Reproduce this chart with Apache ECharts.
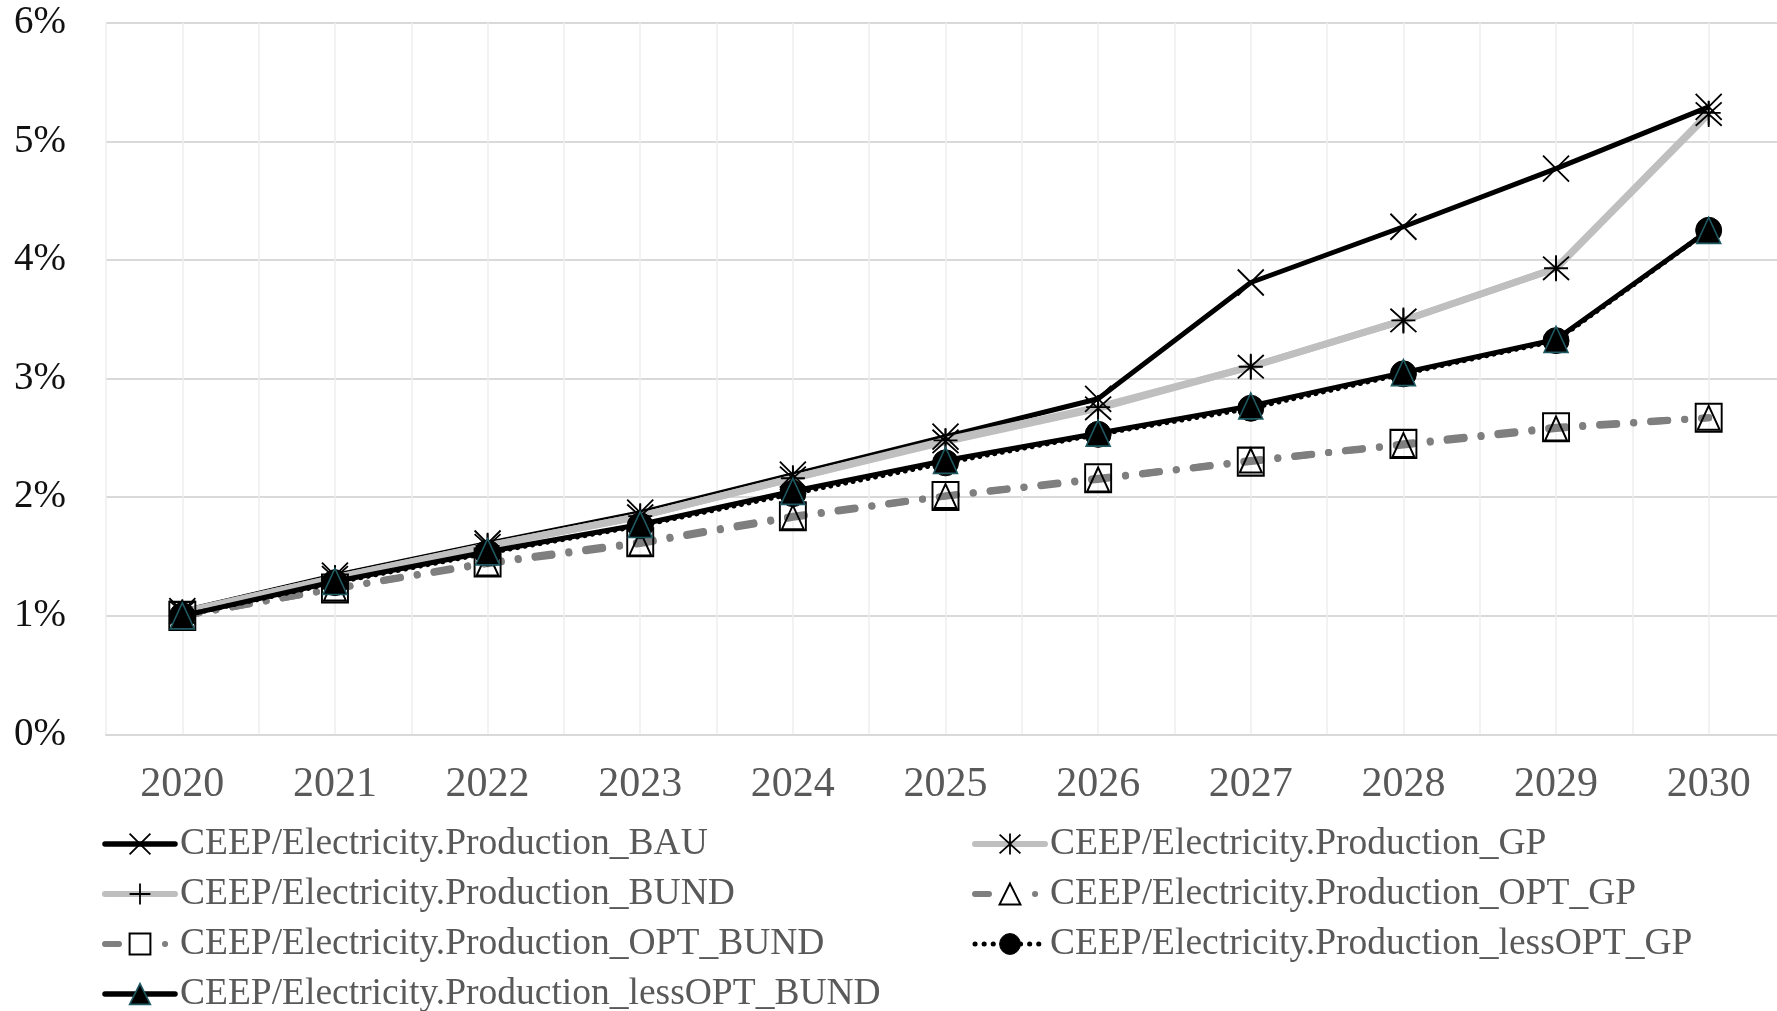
<!DOCTYPE html>
<html>
<head>
<meta charset="utf-8">
<script src="https://cdn.jsdelivr.net/npm/echarts@6/dist/echarts.min.js"></script>
<style>
  html, body { margin: 0; padding: 0; background: #fff; }
  #chart { width: 1777px; height: 1011px; }
</style>
</head>
<body>
<div id="chart"></div>
<script>
// Electricity production scenarios, share in percent
const years = ['2020', '2021', '2022', '2023', '2024', '2025', '2026', '2027', '2028', '2029', '2030'];
const yTicks = [0, 1, 2, 3, 4, 5, 6];

const prodBAU        = [1.04, 1.34, 1.61, 1.87, 2.19, 2.51, 2.83, 3.81, 4.28, 4.77, 5.29];
const prodGP         = [1.03, 1.32, 1.59, 1.84, 2.16, 2.47, 2.75, 3.10, 3.49, 3.93, 5.23];
const prodBUND       = [1.03, 1.32, 1.59, 1.84, 2.16, 2.48, 2.76, 3.10, 3.49, 3.93, 5.24];
const prodOPT_GP     = [1.00, 1.23, 1.44, 1.61, 1.83, 2.01, 2.15, 2.31, 2.44, 2.58, 2.67];
const prodOPT_BUND   = [1.00, 1.23, 1.45, 1.62, 1.84, 2.01, 2.16, 2.30, 2.45, 2.59, 2.67];
const prodLessOPT_GP   = [1.00, 1.28, 1.53, 1.76, 2.03, 2.29, 2.53, 2.75, 3.04, 3.32, 4.25];
const prodLessOPT_BUND = [1.00, 1.29, 1.54, 1.77, 2.05, 2.31, 2.54, 2.77, 3.05, 3.33, 4.25];

const names = {
  BAU: 'CEEP/Electricity.Production_BAU',
  GP: 'CEEP/Electricity.Production_GP',
  BUND: 'CEEP/Electricity.Production_BUND',
  OPT_GP: 'CEEP/Electricity.Production_OPT_GP',
  OPT_BUND: 'CEEP/Electricity.Production_OPT_BUND',
  lessOPT_GP: 'CEEP/Electricity.Production_lessOPT_GP',
  lessOPT_BUND: 'CEEP/Electricity.Production_lessOPT_BUND'
};

const FONT = 'Liberation Serif';
const CLEAR = 'rgba(0,0,0,0)';

// stroked marker shapes
const SYM_X = 'path://M0,0L20,20M20,0L0,20';
const SYM_STAR = 'path://M1,1L19,19M19,1L1,19M10,0L10,20';
const SYM_PLUS = 'path://M0,10L20,10M10,0L10,20';

const DASH_DOT = [17, 17, 0.1, 17];
const DOTS = [0.1, 7.5];

function strokeMarker(width) {
  return { color: CLEAR, borderColor: '#000', borderWidth: width };
}

// per-scenario look, shared by the plotted line and its legend entry
const styles = {
  BAU: {
    symbol: SYM_X, symbolSize: 26,
    line: { color: '#000', width: 5 },
    item: strokeMarker(1.8),
    legendLine: { color: '#000', width: 5.5, type: 'solid', cap: 'round' }
  },
  GP: {
    symbol: SYM_STAR, symbolSize: 26,
    line: { color: '#bfbfbf', width: 7 },
    item: strokeMarker(1.8),
    legendLine: { color: '#bfbfbf', width: 6, type: 'solid', cap: 'round' }
  },
  BUND: {
    symbol: SYM_PLUS, symbolSize: 24,
    line: { color: '#bfbfbf', width: 7 },
    item: strokeMarker(1.8),
    legendLine: { color: '#bfbfbf', width: 6, type: 'solid', cap: 'round' }
  },
  OPT_GP: {
    symbol: 'triangle', symbolSize: [22, 24],
    line: { color: '#7f7f7f', width: 7, type: DASH_DOT, cap: 'round' },
    item: strokeMarker(2),
    legendLine: { color: '#7f7f7f', width: 6, type: [14, 46, 0.1, 30], cap: 'round' }
  },
  OPT_BUND: {
    symbol: 'rect', symbolSize: [26, 28],
    line: { color: '#7f7f7f', width: 7, type: DASH_DOT, cap: 'round' },
    item: strokeMarker(2),
    legendLine: { color: '#7f7f7f', width: 6, type: [14, 46, 0.1, 30], cap: 'round' }
  },
  lessOPT_GP: {
    symbol: 'circle', symbolSize: 26,
    line: { color: '#000', width: 5, type: DOTS, cap: 'round' },
    item: { color: '#000', borderColor: '#000', borderWidth: 1 },
    legendLine: { color: '#000', width: 5, type: [0.1, 9], cap: 'round' }
  },
  lessOPT_BUND: {
    symbol: 'triangle', symbolSize: [24, 26],
    line: { color: '#000', width: 5 },
    item: { color: '#000', borderColor: '#1f5a63', borderWidth: 1.6 },
    legendLine: { color: '#000', width: 5.5, type: 'solid', cap: 'round' }
  }
};

const seriesData = {
  BAU: prodBAU, GP: prodGP, BUND: prodBUND,
  OPT_GP: prodOPT_GP, OPT_BUND: prodOPT_BUND,
  lessOPT_GP: prodLessOPT_GP, lessOPT_BUND: prodLessOPT_BUND
};

const order = ['BAU', 'GP', 'BUND', 'OPT_GP', 'OPT_BUND', 'lessOPT_GP', 'lessOPT_BUND'];

const series = order.map(k => ({
  type: 'line',
  name: names[k],
  data: seriesData[k],
  symbol: styles[k].symbol,
  symbolSize: styles[k].symbolSize,
  showSymbol: true,
  showAllSymbol: true,
  smooth: false,
  lineStyle: styles[k].line,
  itemStyle: styles[k].item,
  emphasis: { disabled: true }
}));

function legendItem(k) {
  return {
    name: names[k],
    lineStyle: styles[k].legendLine,
    itemStyle: styles[k].item
  };
}

const legendBase = {
  orient: 'vertical',
  top: 822,
  height: 260,
  padding: 0,
  itemWidth: 70,
  itemHeight: 26,
  itemGap: 6,
  selectedMode: false,
  textStyle: { fontFamily: FONT, fontSize: 37.5, color: '#595959', lineHeight: 44 }
};

const chart = echarts.init(document.getElementById('chart'), null, { renderer: 'canvas' });

chart.setOption({
  animation: false,
  backgroundColor: '#ffffff',
  // the plot area runs slightly past the right edge of the page
  grid: {
    left: 106, width: 1679, top: 22.7, bottom: 276.5,
    containLabel: false,
    outerBoundsMode: 'none'
  },
  legend: [
    Object.assign({}, legendBase, {
      left: 102,
      data: ['BAU', 'BUND', 'OPT_BUND', 'lessOPT_BUND'].map(legendItem)
    }),
    Object.assign({}, legendBase, {
      left: 972,
      data: ['GP', 'OPT_GP', 'lessOPT_GP'].map(legendItem)
    })
  ],
  xAxis: [
    {
      type: 'category',
      data: years,
      boundaryGap: true,
      axisLine: { show: true, lineStyle: { color: '#d9d9d9', width: 2 } },
      axisTick: { show: false },
      splitLine: { show: false },
      axisLabel: { fontFamily: FONT, fontSize: 42, color: '#595959', margin: 29, lineHeight: 42 }
    },
    {
      // vertical gridlines at every year and half-year position
      type: 'value',
      min: -0.5,
      max: 10.5,
      interval: 0.5,
      show: true,
      position: 'bottom',
      axisLine: { show: false },
      axisTick: { show: false },
      axisLabel: { show: false },
      splitLine: { show: true, lineStyle: { color: '#eeeeee', width: 1.5 } }
    }
  ],
  yAxis: {
    type: 'value',
    min: yTicks[0],
    max: yTicks[yTicks.length - 1],
    interval: 1,
    axisLine: { show: false },
    axisTick: { show: false },
    axisLabel: {
      fontFamily: FONT, fontSize: 39, color: '#111111', margin: 40,
      formatter: v => v + '%'
    },
    splitLine: { show: true, lineStyle: { color: '#d9d9d9', width: 2 } }
  },
  series: series
});
</script>
</body>
</html>
